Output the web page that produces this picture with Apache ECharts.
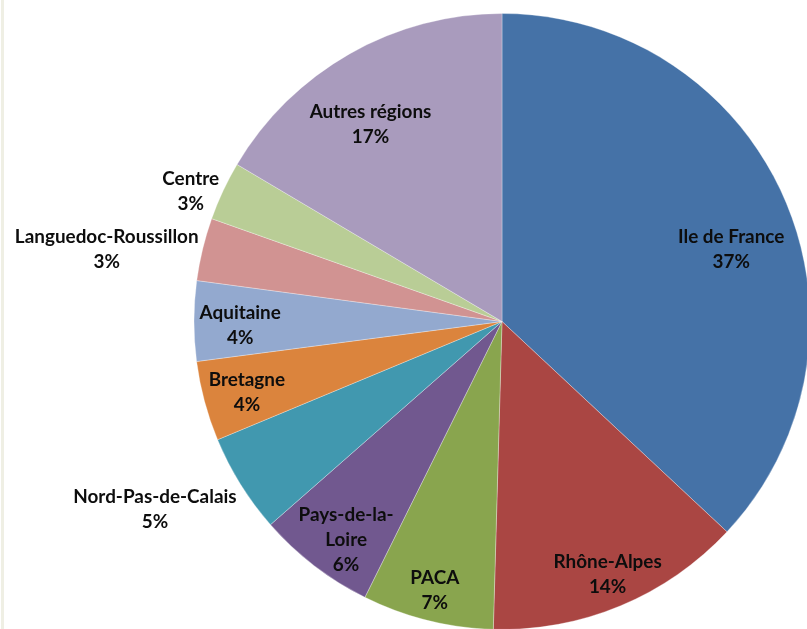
<!DOCTYPE html>
<html>
<head>
<meta charset="utf-8">
<script src="https://cdn.jsdelivr.net/npm/echarts@6/dist/echarts.min.js"></script>
<style>
  body { margin: 0; background: #fff; }
  #myChart { width: 807px; height: 629px; }
  .edge { position: absolute; left: 1px; top: 0; width: 3px; height: 629px; background: #efefe4; }
</style>
</head>
<body>
<div id="myChart"></div>
<div class="edge"></div>
<script>
  // regions, clockwise from 12 o'clock
  let regions = ['Ile de France', 'Rhône-Alpes', 'PACA', 'Pays-de-la-Loire', 'Nord-Pas-de-Calais',
    'Bretagne', 'Aquitaine', 'Languedoc-Roussillon', 'Centre', 'Autres régions'];
  // share in %
  let shares = [37.0, 13.5, 6.9, 6.2, 5.2, 4.2, 4.2, 3.3, 3.1, 16.5];
  let colors = ['#4572A7', '#AA4643', '#89A54E', '#71588F', '#4198AF',
    '#DB843D', '#93A9CF', '#D19392', '#B9CD96', '#A99BBD'];

  // label placement: [radius factor, angle shift in deg] inside, or ['out', vertical shift in label heights]
  let labelPlace = [[0.78, 6], [0.89, 0], [0.9, 0], [0.87, -2], ['out', 0.5],
    [0.86, -0.6], [0.85, -1], ['out', 0], ['out', 0], [0.77, -4]];

  const CX = 502, CY = 321.5, R = 308;

  let total = shares.reduce((a, b) => a + b, 0);
  let midAngle = [];
  let acc = 0;
  shares.forEach(v => {
    midAngle.push((acc + v / 2) / total * Math.PI * 2);
    acc += v;
  });

  let myChart = echarts.init(document.getElementById('myChart'));
  let option = {
    animation: false,
    color: colors,
    series: [{
      type: 'pie',
      center: [CX, CY],
      radius: [0, R],
      startAngle: 90,
      clockwise: true,
      silent: true,
      avoidLabelOverlap: false,
      itemStyle: { borderColor: 'rgba(255,255,255,0.6)', borderWidth: 0.5 },
      label: {
        show: true,
        position: 'inside',
        fontFamily: 'Lato',
        fontWeight: 'bold',
        fontSize: 18.9,
        lineHeight: 25,
        color: '#0d0d0d',
        formatter: p => {
          let name = p.name === 'Pays-de-la-Loire' ? 'Pays-de-la-\nLoire' : p.name;
          return name + '\n' + Math.round(p.value) + '%';
        }
      },
      labelLine: { show: false },
      labelLayout: params => {
        let i = params.dataIndex;
        let place = labelPlace[i];
        let w = params.labelRect.width, h = params.labelRect.height;
        if (place[0] === 'out') {
          let px = CX + R * Math.sin(midAngle[i]);
          let py = CY - R * Math.cos(midAngle[i]);
          return { x: px - 4 - w / 2, y: py + place[1] * h, align: 'center', verticalAlign: 'middle' };
        }
        let r = R * place[0];
        let a = midAngle[i] + place[1] * Math.PI / 180;
        return { x: CX + r * Math.sin(a), y: CY - r * Math.cos(a), align: 'center', verticalAlign: 'middle' };
      },
      data: regions.map((n, i) => ({ name: n, value: shares[i] }))
    }]
  };
  myChart.setOption(option);
</script>
</body>
</html>
